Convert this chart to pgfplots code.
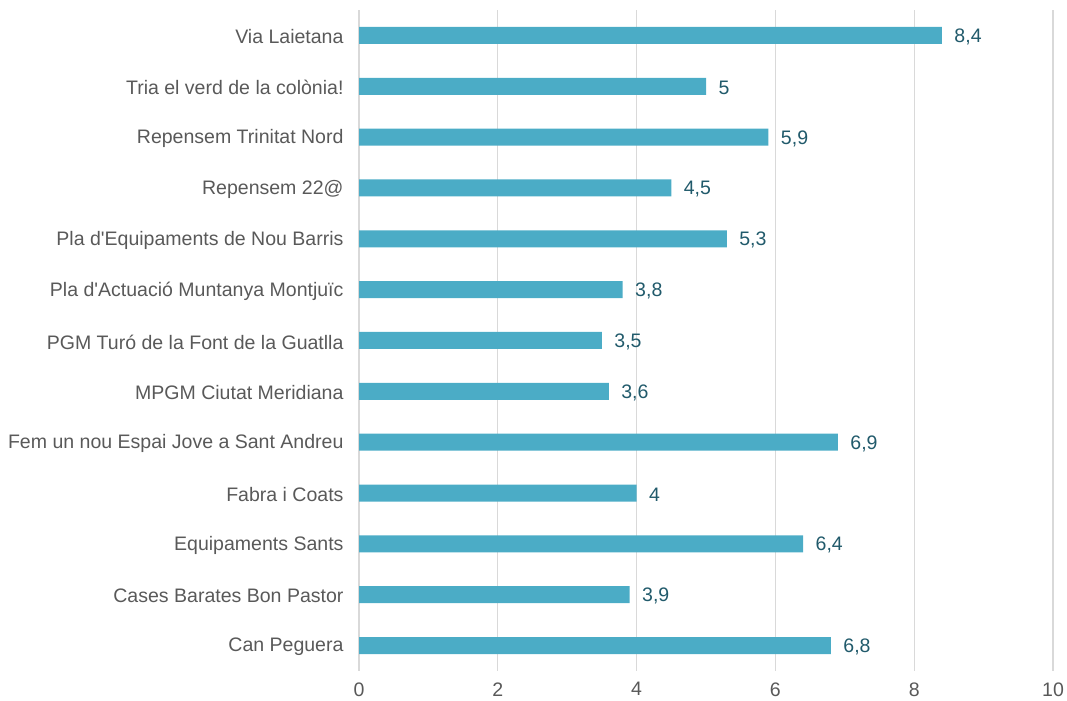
\documentclass[border=0pt]{standalone}
\usepackage{pgfplots}
\pgfplotsset{compat=1.18}
\usepackage{fontspec}
\setmainfont{Liberation Sans}
\definecolor{barc}{HTML}{4BACC6}
\definecolor{labc}{HTML}{215A6B}
\definecolor{tickc}{HTML}{595959}
\definecolor{gridc}{HTML}{D9D9D9}
\begin{document}
\begin{tikzpicture}[x=1bp,y=1bp]
\useasboundingbox (0,0) rectangle (1067,701);
\begin{axis}[
  at={(359bp,30bp)}, anchor=south west,
  scale only axis, width=694bp, height=661bp,
  xbar, bar width=17bp,
  xmin=0, xmax=10, ymin=-0.5, ymax=12.5,
  xtick={0,2,4,6,8,10},
  ytick={0,...,12},
  yticklabels={Can Peguera,Cases Barates Bon Pastor,Equipaments Sants,Fabra i Coats,Fem un nou Espai Jove a Sant Andreu,MPGM Ciutat Meridiana,PGM Turó de la Font de la Guatlla,Pla d\textquotesingle Actuació Muntanya Montjuïc,Pla d\textquotesingle Equipaments de Nou Barris,Repensem 22@,Repensem Trinitat Nord,Tria el verd de la colònia!,Via Laietana},
  axis line style={draw=none},
  major tick length=0pt,
  xmajorgrids, grid style={gridc, line width=1.3bp},
  tick label style={font=\fontsize{19.6}{22}\selectfont, text=tickc},
  yticklabel style={xshift=-12bp, yshift=-1.5bp},
  xticklabel style={yshift=-8bp},
  /pgf/number format/assume math mode=true,
  nodes near coords,
  nodes near coords style={font=\fontsize{19.6}{22}\selectfont, text=labc, anchor=west, xshift=9bp, yshift=-1.5bp, /pgf/number format/use comma},
  clip=false,
]
\addplot[fill=barc, draw=none] coordinates {
(6.8,0) (3.9,1) (6.4,2) (4,3) (6.9,4) (3.6,5) (3.5,6) (3.8,7) (5.3,8) (4.5,9) (5.9,10) (5,11) (8.4,12)
};
\end{axis}
\end{tikzpicture}
\end{document}
